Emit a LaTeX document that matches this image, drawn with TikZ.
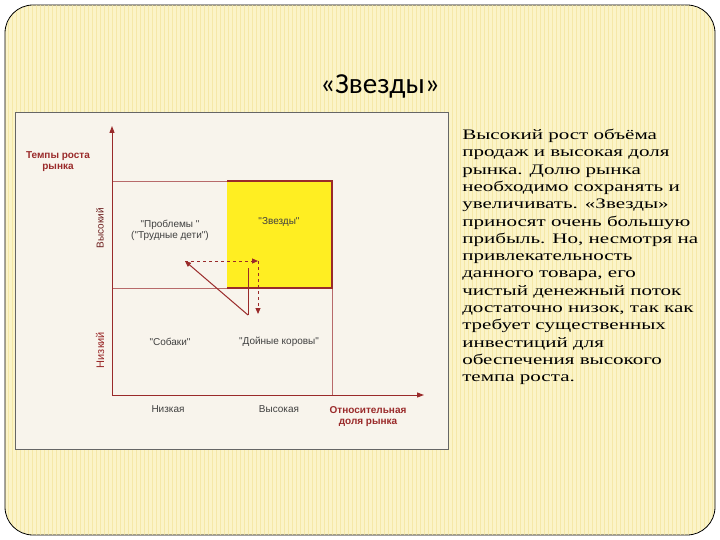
\documentclass[tikz,border=0pt]{standalone}
\usepackage{fontspec}
\setmainfont{Liberation Serif}
\newfontfamily\chartfont{Liberation Sans}
\newfontfamily\titlefont{Carlito}
\usetikzlibrary{arrows.meta}
\definecolor{slidebg}{HTML}{FBF4C8}
\definecolor{stripe}{HTML}{F5E8A8}
\definecolor{chartbg}{HTML}{F8F4EC}
\definecolor{dred}{HTML}{9A2A2A}
\definecolor{star}{HTML}{FFEE22}
\tikzset{
  axis/.style={dred, line width=1pt, -{Triangle[length=7pt,width=5pt]}},
  grid/.style={dred!70, line width=0.5pt},
  lab/.style={font=\chartfont\fontsize{10}{11}\selectfont, text=black!75, align=center},
  rlab/.style={font=\chartfont\bfseries\fontsize{10}{11}\selectfont, text=dred, align=center},
  arr/.style={dred, line width=1pt, -{Triangle[length=6pt,width=5pt]}},
}
\begin{document}
\begin{tikzpicture}[x=1pt,y=-1pt]
\useasboundingbox (0,0) rectangle (720,540);
\fill[white] (0,0) rectangle (720,540);
\draw[fill=slidebg, rounded corners=28pt, line width=0.8pt] (5,5) rectangle (715,535);
\begin{scope}
\clip[rounded corners=28pt] (5.5,5.5) rectangle (714.5,534.5);
\foreach \i in {0,...,177} {\draw[stripe, line width=1pt] (8+4*\i,5) -- (8+4*\i,535);}
\end{scope}
\draw[fill=chartbg, draw=black!60] (15,112) rectangle (448,449);
\node[font=\titlefont\fontsize{29}{32}\selectfont] (title) at (380,86) {«Звезды»};
% chart
\fill[star] (227,181) rectangle (332,288);
\draw[grid] (112,181) -- (332,181) -- (332,395);
\draw[grid] (112,288) -- (332,288);
\draw[dred, line width=1.2pt] (227,181) -- (332,181) -- (332,288) -- (227,288);
\coordinate (o) at (112,395);
\coordinate (yt) at (112,126);
\coordinate (xr) at (424,395);
\draw[axis] (o) -- (yt);
\draw[axis] (o) -- (xr);
\coordinate (p) at (248,315);
\coordinate (q) at (185,261);
\coordinate (s) at (258,261);
\coordinate (d) at (258,314);
\draw[dred, line width=0.6pt] (p) -- (248,268);
\draw[arr] (p) -- (q);
\draw[arr, dashed] (q) -- (s);
\draw[arr, dashed] (s) -- (d);
\node[rlab] (ty) at (58,162) {Темпы роста\\рынка};
\node[lab, rotate=90, text=dred!70!black] (hi) at (100,228) {Высокий};
\node[rlab, rotate=90, font=\chartfont\fontsize{11}{12}\selectfont] (lo) at (100,350) {Низкий};
\node[lab] (prob) at (170,230) {"Проблемы "\\("Трудные дети")};
\node[lab] (stars) at (279,222) {"Звезды"};
\node[lab] (dogs) at (170,342) {"Собаки"};
\node[lab] (cows) at (279,342) {"Дойные коровы"};
\node[lab] (xl) at (168,409) {Низкая};
\node[lab] (xh) at (279,409) {Высокая};
\node[rlab] (xt) at (368,417) {Относительная\\доля рынка};
% text
\node[anchor=north west, align=left, inner sep=0pt, xscale=1.45, font=\fontsize{14.5}{17.3}\selectfont] (txt) at (462,129) {Высокий рост объёма\\продаж и высокая доля\\рынка. Долю рынка\\необходимо сохранять и\\увеличивать. «Звезды»\\приносят очень большую\\прибыль. Но, несмотря на\\привлекательность\\данного товара, его\\чистый денежный поток\\достаточно низок, так как\\требует существенных\\инвестиций для\\обеспечения высокого\\темпа роста.};
\end{tikzpicture}
\end{document}
